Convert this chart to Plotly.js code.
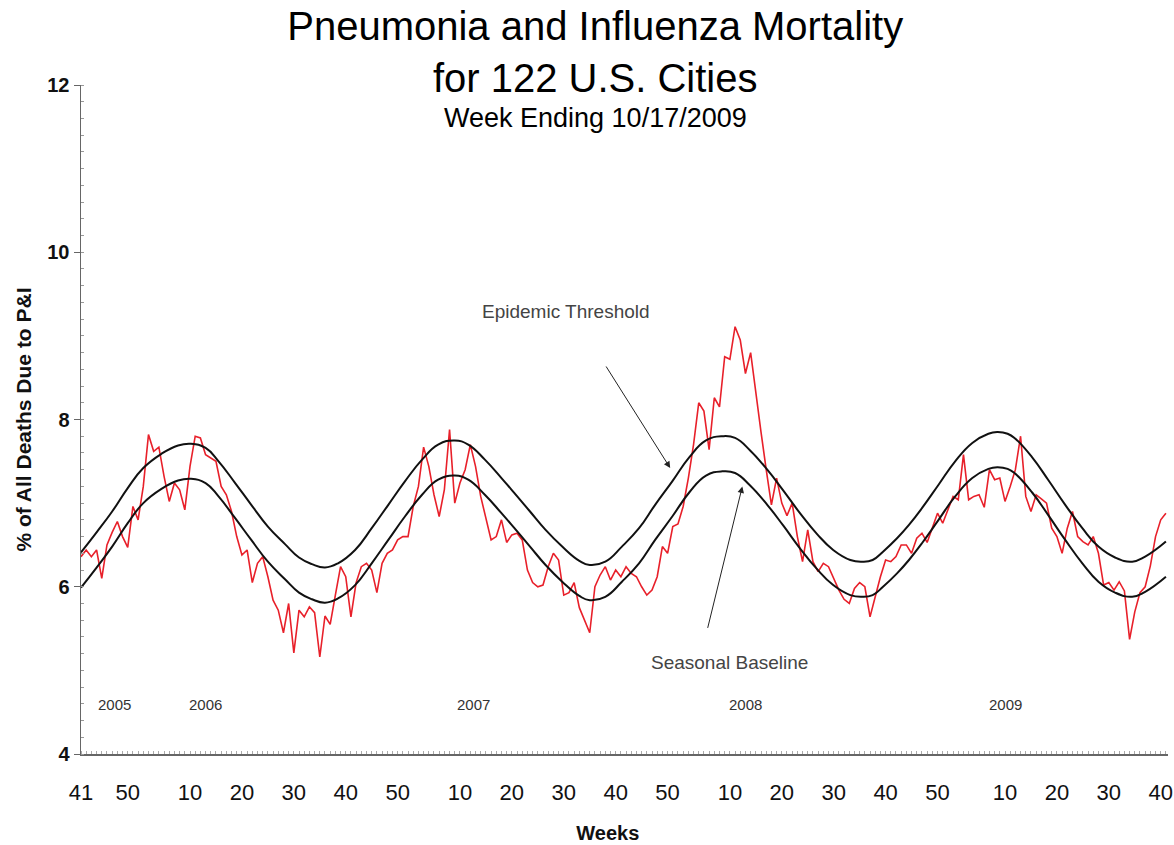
<!DOCTYPE html>
<html>
<head>
<meta charset="utf-8">
<script src="https://cdn.plot.ly/plotly-3.0.1.min.js"></script>
<style>html,body{margin:0;padding:0;background:#fff;}#chart{width:1174px;height:845px;}</style>
</head>
<body>
<div id="chart"></div>
<script>
// MMWR seasons shown: year, first week, last week
const seasonYears = [2005, 2006, 2007, 2008, 2009];
const firstWeek   = [41, 1, 1, 1, 1];
const lastWeek    = [52, 52, 52, 53, 41];

// % of all deaths due to P&I, one value per week (2005 wk41 .. 2009 wk41)
const piPercent = [
  6.36, 6.44, 6.36, 6.44, 6.10, 6.50, 6.65, 6.78, 6.60, 6.47,
  6.96, 6.80, 7.20, 7.82, 7.62, 7.67, 7.32, 7.02, 7.24, 7.16,
  6.92, 7.44, 7.80, 7.78, 7.58, 7.54, 7.50, 7.20, 7.10, 6.90,
  6.60, 6.38, 6.44, 6.05, 6.28, 6.36, 6.12, 5.84, 5.72, 5.45,
  5.80, 5.21, 5.72, 5.64, 5.76, 5.69, 5.16, 5.65, 5.55, 5.90,
  6.24, 6.12, 5.64, 6.05, 6.24, 6.28, 6.20, 5.93, 6.28, 6.40,
  6.44, 6.56, 6.60, 6.60, 6.96, 7.20, 7.67, 7.44, 7.10, 6.84,
  7.16, 7.88, 7.00, 7.24, 7.40, 7.70, 7.44, 7.08, 6.80, 6.56,
  6.60, 6.80, 6.53, 6.62, 6.64, 6.56, 6.20, 6.05, 6.00, 6.02,
  6.24, 6.40, 6.32, 5.90, 5.93, 6.05, 5.75, 5.60, 5.45, 6.00,
  6.14, 6.24, 6.08, 6.20, 6.12, 6.24, 6.16, 6.12, 6.00, 5.90,
  5.96, 6.12, 6.48, 6.40, 6.72, 6.75, 6.96, 7.30, 7.70, 8.20,
  8.10, 7.64, 8.26, 8.15, 8.75, 8.72, 9.11, 8.95, 8.55, 8.80,
  8.30, 7.85, 7.40, 6.98, 7.30, 7.00, 6.85, 7.00, 6.60, 6.30,
  6.68, 6.30, 6.18, 6.28, 6.24, 6.10, 5.96, 5.85, 5.80, 5.98,
  6.05, 6.00, 5.64, 5.88, 6.12, 6.32, 6.30, 6.36, 6.50, 6.50,
  6.40, 6.58, 6.64, 6.53, 6.70, 6.88, 6.76, 6.92, 7.08, 7.04,
  7.58, 7.04, 7.08, 7.10, 6.95, 7.40, 7.28, 7.30, 7.02, 7.20,
  7.40, 7.80, 7.08, 6.90, 7.10, 7.05, 7.00, 6.70, 6.60, 6.40,
  6.70, 6.90, 6.60, 6.54, 6.50, 6.60, 6.40, 6.02, 6.05, 5.96,
  6.06, 5.95, 5.37, 5.70, 5.93, 6.00, 6.25, 6.60, 6.80, 6.88
];

// Seasonal baseline, read at points along the curve (x = week position from 2005 wk41)
const baselineX = [0,3,6,9,12,15.5,18.7,21.2,24,26.5,29.7,32.8,36,39.3,42,44.5,47,49.5,52.8,56,
  59.2,62.4,65.7,68.8,72,74.6,77.8,81,83.5,86.5,89.5,92.7,96,98,101,104.2,107.5,110.6,113.9,117.2,
  120.4,123.5,126,128.9,132.2,135.3,138.5,141.8,144.9,148.2,150.5,152.5,154.5,157.2,159.5,162,165.2,168.4,171.7,174.8,
  176.5,178.5,180,183.2,186.3,189.6,192.9,196,199.2,202.5,205,209];
const baselineY = [5.99,6.23,6.48,6.76,7.00,7.17,7.27,7.29,7.24,7.08,6.82,6.56,6.30,6.09,5.93,5.85,5.81,5.86,6.02,6.28,
  6.56,6.84,7.10,7.28,7.33,7.28,7.10,6.88,6.70,6.48,6.26,6.06,5.89,5.84,5.88,6.06,6.28,6.56,6.84,7.13,
  7.33,7.38,7.36,7.21,6.98,6.73,6.46,6.21,6.02,5.90,5.88,5.90,6.00,6.16,6.32,6.52,6.80,7.08,7.30,7.41,
  7.43,7.41,7.35,7.13,6.86,6.56,6.28,6.06,5.93,5.88,5.94,6.12];
// Epidemic threshold, read at the same points
const thresholdY = [6.41,6.65,6.90,7.18,7.42,7.59,7.69,7.71,7.66,7.50,7.24,6.98,6.72,6.51,6.35,6.27,6.23,6.28,6.44,6.70,
  6.98,7.26,7.52,7.70,7.75,7.70,7.52,7.30,7.12,6.90,6.68,6.48,6.31,6.26,6.30,6.48,6.70,6.98,7.26,7.55,
  7.75,7.80,7.78,7.63,7.40,7.15,6.88,6.63,6.44,6.32,6.30,6.32,6.42,6.58,6.74,6.94,7.22,7.50,7.72,7.83,
  7.85,7.83,7.77,7.55,7.28,6.98,6.70,6.48,6.35,6.30,6.36,6.54];

// Year labels inside the plot
const yearLabels = ['2005', '2006', '2007', '2008', '2009'];
const yearLabelX = [6.5, 23.9, 75.7, 128, 178];

// build week positions / labels
const weekPos = [], weekNum = [];
let pos = 0;
for (let i = 0; i < seasonYears.length; i++) {
  for (let w = firstWeek[i]; w <= lastWeek[i]; w++) { weekPos.push(pos); weekNum.push(w); pos++; }
}
const tickVals = [], tickText = [];
weekPos.forEach((p, i) => { if (i === 0 || weekNum[i] % 10 === 0) { tickVals.push(p); tickText.push(String(weekNum[i])); } });

const FONT = 'Liberation Sans, Arial, sans-serif';

const traces = [
  { x: weekPos.slice(0, piPercent.length), y: piPercent, type: 'scatter', mode: 'lines',
    line: { color: '#e8202a', width: 1.6 }, name: 'P&I', hoverinfo: 'y' },
  { x: baselineX, y: baselineY, type: 'scatter', mode: 'lines',
    line: { color: '#111111', width: 2, shape: 'spline', smoothing: 1.3 }, name: 'Seasonal Baseline' },
  { x: baselineX, y: thresholdY, type: 'scatter', mode: 'lines',
    line: { color: '#111111', width: 2, shape: 'spline', smoothing: 1.3 }, name: 'Epidemic Threshold' }
];

const annotations = yearLabels.map((t, i) => ({
  x: yearLabelX[i], y: 4.59, xref: 'x', yref: 'y', text: t, showarrow: false,
  font: { family: FONT, size: 15, color: '#333' }
}));
annotations.push(
  { x: 93.4, y: 9.29, xref: 'x', yref: 'y', text: 'Epidemic Threshold', showarrow: false,
    font: { family: FONT, size: 19, color: '#444' } },
  { x: 113.5, y: 7.42, xref: 'x', yref: 'y', text: '', showarrow: true, arrowhead: 2, arrowsize: 1.3,
    arrowwidth: 1, arrowcolor: '#222', ax: -65, ay: -103 },
  { x: 125, y: 5.09, xref: 'x', yref: 'y', text: 'Seasonal Baseline', showarrow: false,
    font: { family: FONT, size: 19, color: '#444' } },
  { x: 127.4, y: 7.2, xref: 'x', yref: 'y', text: '', showarrow: true, arrowhead: 2, arrowsize: 1.3,
    arrowwidth: 1, arrowcolor: '#222', ax: -35, ay: 143 },
  { x: (595 - 81) / 1087, y: (754 - 118) / 669, xref: 'paper', yref: 'paper', xanchor: 'center', yanchor: 'middle',
    text: 'Week Ending 10/17/2009', showarrow: false,
    font: { family: FONT, size: 27, color: '#000' } }
);

const layout = {
  width: 1174, height: 845,
  margin: { l: 81, r: 6, t: 85, b: 91 },
  paper_bgcolor: '#fff', plot_bgcolor: '#fff',
  showlegend: false,
  title: { text: 'Pneumonia and Influenza Mortality<br>for 122 U.S. Cities',
    font: { family: FONT, size: 40, color: '#000' },
    x: 0.507, xanchor: 'center', y: 0.953, yanchor: 'top', yref: 'container' },
  xaxis: {
    range: [0, 209.4], showgrid: false, zeroline: false,
    showline: true, linecolor: '#666', linewidth: 1.5,
    tickmode: 'array', tickvals: tickVals, ticktext: tickText,
    ticks: '', ticklabelstandoff: 18,
    tickfont: { family: FONT, size: 22, color: '#111' },
    minor: { dtick: 1, tick0: 0, ticks: 'inside', ticklen: 3, tickcolor: '#aaa', tickwidth: 1 },
    title: { text: '<b>Weeks</b>&nbsp;&nbsp;&nbsp;&nbsp;&nbsp;&nbsp;', font: { family: FONT, size: 20, color: '#111' }, standoff: 22 }
  },
  yaxis: {
    range: [4, 12], showgrid: false, zeroline: false,
    showline: true, linecolor: '#666', linewidth: 1.5,
    tickmode: 'array', tickvals: [4, 6, 8, 10, 12], ticktext: ['<b>4</b>', '<b>6</b>', '<b>8</b>', '<b>10</b>', '<b>12</b>'],
    ticks: 'outside', ticklen: 6, tickcolor: '#666',
    tickfont: { family: FONT, size: 20, color: '#111' },
    minor: { dtick: 0.2, tick0: 4, ticks: 'inside', ticklen: 3, tickcolor: '#999', tickwidth: 1 },
    title: { text: '<b>% of All Deaths Due to P&amp;I</b>', font: { family: FONT, size: 21, color: '#111' }, standoff: 10 }
  },
  annotations: annotations
};

Plotly.newPlot('chart', traces, layout, { displayModeBar: false, staticPlot: true });
</script>
</body>
</html>
